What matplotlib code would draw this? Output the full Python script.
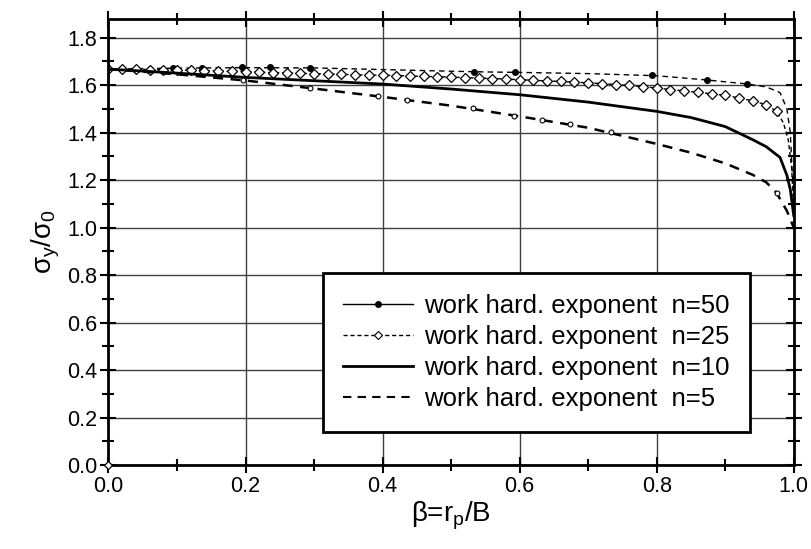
import matplotlib
matplotlib.use("Agg")
import matplotlib.pyplot as plt
from matplotlib.lines import Line2D
import numpy as np

plt.rcParams["font.family"] = ["Liberation Sans", "DejaVu Sans"]
plt.rcParams["mathtext.fontset"] = "custom"
plt.rcParams["mathtext.rm"] = "Liberation Sans"
plt.rcParams["mathtext.it"] = "Liberation Sans"

# ---------- data ----------
# n = 50 : dashed line + filled dots at a few points
n50_beta  = [0.0, 0.05, 0.1, 0.2, 0.3, 0.4, 0.5, 0.55, 0.6, 0.7, 0.8, 0.87,
             0.93, 0.96, 0.98, 0.99, 0.995, 1.0]
n50_ratio = [1.667, 1.669, 1.671, 1.673, 1.672, 1.665, 1.658, 1.655, 1.653,
             1.648, 1.639, 1.622, 1.605, 1.592, 1.568, 1.50, 1.40, 1.10]
n50_mark_beta  = [0.094, 0.136, 0.195, 0.236, 0.294, 0.533, 0.593, 0.793,
                  0.873, 0.932]
n50_mark_ratio = [1.672, 1.672, 1.674, 1.674, 1.672, 1.655, 1.655, 1.641,
                  1.621, 1.606]

# n = 25 : short-dash line with open diamonds
n25_beta = [0.00, 0.02, 0.04, 0.06, 0.08, 0.10, 0.12, 0.14, 0.16, 0.18,
            0.20, 0.22, 0.24, 0.26, 0.28, 0.30, 0.32, 0.34, 0.36, 0.38,
            0.40, 0.42, 0.44, 0.46, 0.48, 0.50, 0.52, 0.54, 0.56, 0.58,
            0.60, 0.62, 0.64, 0.66, 0.68, 0.70, 0.72, 0.74, 0.76, 0.78,
            0.80, 0.82, 0.84, 0.86, 0.88, 0.90, 0.92, 0.94, 0.96, 0.975]
n25_ratio = [1.667, 1.667, 1.666, 1.665, 1.664, 1.663, 1.662, 1.660, 1.659, 1.657,
             1.656, 1.654, 1.652, 1.651, 1.649, 1.648, 1.646, 1.645, 1.643, 1.642,
             1.641, 1.640, 1.638, 1.636, 1.635, 1.633, 1.631, 1.629, 1.627, 1.625,
             1.622, 1.620, 1.617, 1.615, 1.612, 1.609, 1.606, 1.602, 1.598, 1.593,
             1.587, 1.581, 1.575, 1.569, 1.563, 1.556, 1.546, 1.533, 1.517, 1.489]
n25_tail_beta  = [0.985, 0.992, 0.997, 1.0]
n25_tail_ratio = [1.44, 1.37, 1.25, 1.07]
origin_beta, origin_ratio = [0.0], [0.0]

# n = 10 : solid line
n10_beta  = [0.0, 0.1, 0.2, 0.3, 0.4, 0.5, 0.6, 0.7, 0.8, 0.85, 0.9, 0.94,
             0.96, 0.98, 0.99, 0.995, 1.0]
n10_ratio = [1.667, 1.650, 1.632, 1.618, 1.604, 1.583, 1.559, 1.528, 1.489,
             1.463, 1.425, 1.370, 1.340, 1.295, 1.220, 1.160, 1.05]

# n = 5 : long-dash line with small open circles
n5_beta  = [0.0, 0.1, 0.2, 0.3, 0.4, 0.5, 0.6, 0.7, 0.8, 0.85, 0.9, 0.94,
            0.96, 0.975, 0.99, 1.0]
n5_ratio = [1.667, 1.645, 1.619, 1.585, 1.550, 1.513, 1.468, 1.420, 1.352,
            1.315, 1.270, 1.222, 1.190, 1.146, 1.070, 1.0]
n5_mark_beta  = [0.196, 0.294, 0.394, 0.436, 0.532, 0.592, 0.632, 0.674,
                 0.733, 0.975]
n5_mark_ratio = [1.620, 1.586, 1.552, 1.535, 1.503, 1.471, 1.454, 1.437,
                 1.403, 1.146]

labels = ["work hard. exponent  n=50", "work hard. exponent  n=25",
          "work hard. exponent  n=10", "work hard. exponent  n=5"]

# ---------- plot ----------
fig = plt.figure(figsize=(8.12, 5.49), dpi=100)
ax = fig.add_axes([0.1336, 0.153, 0.8439, 0.8133])

ax.grid(True, which="major", color="#404040", linewidth=1.0)
ax.set_axisbelow(True)

ax.plot(n50_beta, n50_ratio, color="black", linewidth=1.0, dashes=(4, 3))
ax.plot(n50_mark_beta, n50_mark_ratio, "o", color="black", markersize=4)

ax.plot(n25_beta + n25_tail_beta, n25_ratio + n25_tail_ratio, color="black",
        linewidth=1.0, dashes=(3, 2))
ax.plot(n25_beta, n25_ratio, "D", markerfacecolor="white",
        markeredgecolor="black", markeredgewidth=0.9, markersize=5.0)
ax.plot(origin_beta, origin_ratio, "D", markerfacecolor="white",
        markeredgecolor="black", markeredgewidth=0.9, markersize=4, clip_on=False,
        zorder=5)

ax.plot(n10_beta, n10_ratio, color="black", linewidth=2.0)

ax.plot(n5_beta, n5_ratio, color="black", linewidth=1.8, dashes=(4, 3))
ax.plot(n5_mark_beta, n5_mark_ratio, "o", markerfacecolor="white",
        markeredgecolor="black", markeredgewidth=0.8, markersize=3.5)

ax.set_xlim(0, 1.0)
ax.set_ylim(0, 1.88)
ax.set_xticks(np.arange(0, 1.01, 0.2))
ax.set_yticks(np.arange(0, 1.81, 0.2))
ax.set_xticks(np.arange(0.1, 1.0, 0.2), minor=True)
ax.set_yticks(np.arange(0.1, 1.9, 0.2), minor=True)
ax.xaxis.set_major_formatter(matplotlib.ticker.FormatStrFormatter("%.1f"))
ax.yaxis.set_major_formatter(matplotlib.ticker.FormatStrFormatter("%.1f"))
ax.tick_params(which="both", direction="inout", top=True, right=True,
               width=1.5, labelsize=15.5, pad=2)
ax.tick_params(which="major", length=12)
ax.tick_params(which="minor", length=8)
for s in ax.spines.values():
    s.set_linewidth(2.0)

ax.set_xlabel(r"$\mathrm{\beta}$=r$_\mathrm{p}$/B", fontsize=20, labelpad=2)
ax.set_ylabel(r"$\mathrm{\sigma_y/\sigma_0}$", fontsize=20, labelpad=4)

handles = [
    Line2D([], [], color="black", linewidth=1.0, marker="o", markersize=4),
    Line2D([], [], color="black", linewidth=1.0, dashes=(3, 2), marker="D",
           markersize=4, markerfacecolor="white", markeredgewidth=0.8),
    Line2D([], [], color="black", linewidth=2.0),
    Line2D([], [], color="black", linewidth=1.5, dashes=(4, 3)),
]
leg = ax.legend(handles, labels, loc="lower right",
                bbox_to_anchor=(0.9365, 0.074), borderaxespad=0,
                fontsize=18.5, handlelength=2.7, labelspacing=0.28,
                handletextpad=0.45, fancybox=False, framealpha=1,
                edgecolor="black", borderpad=0.8)
leg.get_frame().set_linewidth(2.0)

fig.savefig("out.png", dpi=100)
